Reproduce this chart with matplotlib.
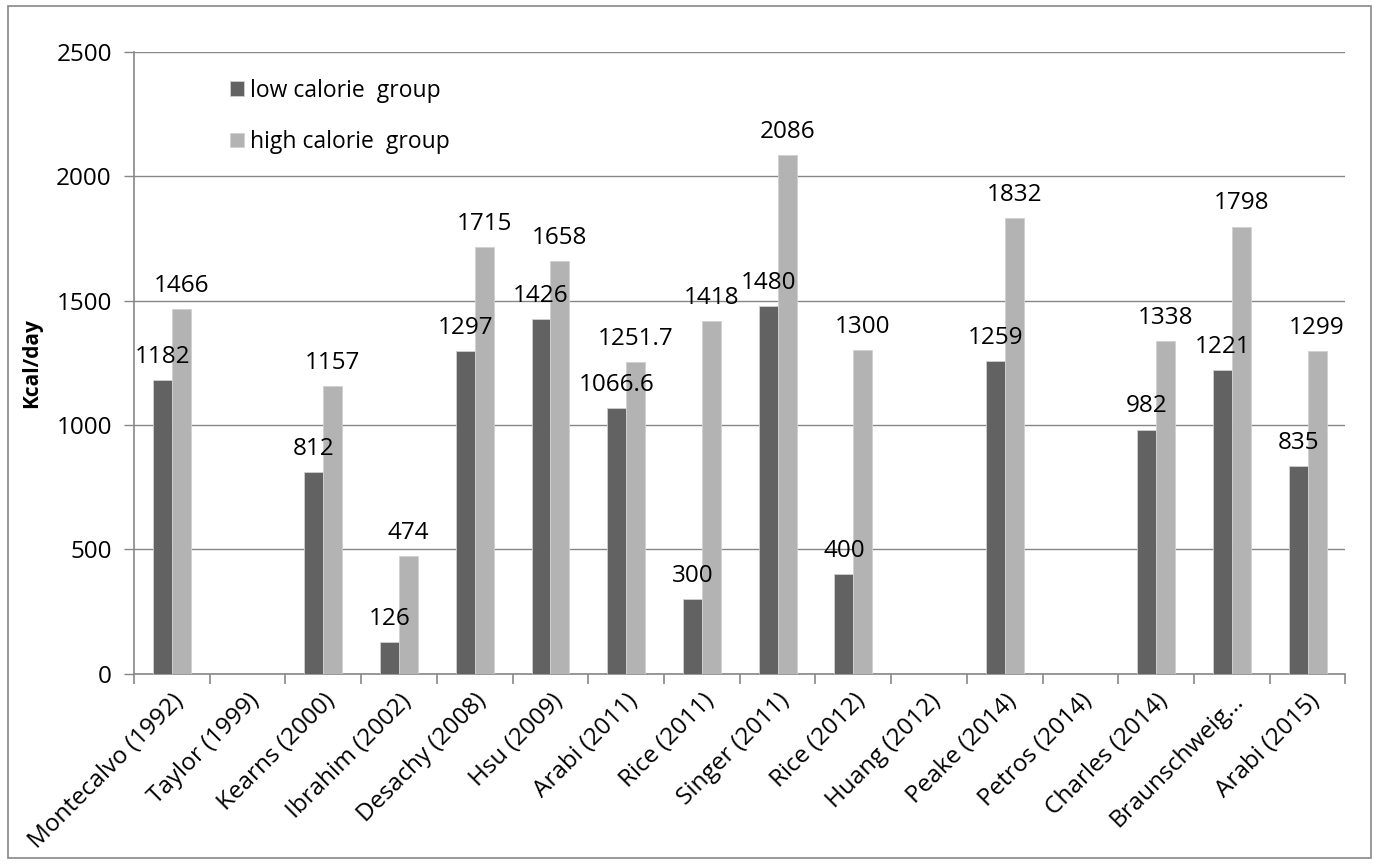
#!/usr/bin/env python3
"""Grouped bar chart: low vs high calorie group intake per study."""

import numpy as np
import matplotlib
matplotlib.use("Agg")
import matplotlib.pyplot as plt
from matplotlib.patches import Rectangle

STUDIES = [
    "Montecalvo (1992)", "Taylor (1999)", "Kearns (2000)", "Ibrahim (2002)",
    "Desachy (2008)", "Hsu (2009)", "Arabi (2011)", "Rice (2011)",
    "Singer (2011)", "Rice (2012)", "Huang (2012)", "Peake (2014)",
    "Petros (2014)", "Charles (2014)", "Braunschweig...", "Arabi (2015)",
]
LOW = [1182, np.nan, 812, 126, 1297, 1426, 1066.6, 300,
       1480, 400, np.nan, 1259, np.nan, 982, 1221, 835]
HIGH = [1466, np.nan, 1157, 474, 1715, 1658, 1251.7, 1418,
        2086, 1300, np.nan, 1832, np.nan, 1338, 1798, 1299]
SERIES = ["low calorie  group", "high calorie  group"]

COLORS = ["#626262", "#b3b3b3"]
GRID = "#878787"
FONT = "Open Sans"


def fmt(v):
    return f"{v:g}"


def main():
    plt.rcParams["font.family"] = [FONT, "DejaVu Sans"]
    fig = plt.figure(figsize=(13.75, 8.65), dpi=100)
    ax = fig.add_axes([0.0975, 0.221, 0.881, 0.719])

    x = np.arange(len(STUDIES))
    w = 0.25
    for vals, off, col, name in zip([LOW, HIGH], [-w / 2, w / 2], COLORS, SERIES):
        bars = ax.bar(x + off, vals, width=w, color=col, edgecolor="#d0d0d0",
                      linewidth=0.6, label=name, zorder=3)
        labels = ["" if np.isnan(v) else fmt(v) for v in vals]
        texts = ax.bar_label(bars, labels=labels, padding=8, fontsize=17.5, color="black")
        for t in texts:
            t.set_zorder(10)

    ax.set_xlim(-0.5, len(STUDIES) - 0.5)
    ax.set_ylim(0, 2500)
    ax.set_yticks(np.arange(0, 2501, 500))
    ax.yaxis.grid(True, color=GRID, linewidth=1.0, zorder=0)
    ax.set_axisbelow(True)

    ax.set_xticks(x)
    ax.set_xticklabels(STUDIES, rotation=45, ha="right", rotation_mode="anchor",
                       fontsize=17.5)
    ax.set_xticks(np.arange(-0.5, len(STUDIES)), minor=True)
    ax.tick_params(axis="x", which="major", length=0, pad=11)
    ax.tick_params(axis="x", which="minor", length=7, color=GRID, width=1.2)
    ax.tick_params(axis="y", length=7, color=GRID, width=1.0, labelsize=17.5, pad=9)

    for side in ["top", "right"]:
        ax.spines[side].set_visible(False)
    for side in ["left", "bottom"]:
        ax.spines[side].set_color(GRID)
        ax.spines[side].set_linewidth(1.2)

    ax.set_ylabel("Kcal/day", fontsize=15, fontweight="bold", labelpad=10)

    ax.legend(loc="upper left", bbox_to_anchor=(0.062, 0.99), frameon=False,
              fontsize=16.5, handlelength=0.6, handleheight=0.6, handletextpad=0.3,
              labelspacing=1.2)

    fig.patches.append(Rectangle((0.006, 0.008), 0.991, 0.985, transform=fig.transFigure,
                                 fill=False, edgecolor=GRID, linewidth=1.2))

    fig.savefig("out.png", dpi=100)


if __name__ == "__main__":
    main()
